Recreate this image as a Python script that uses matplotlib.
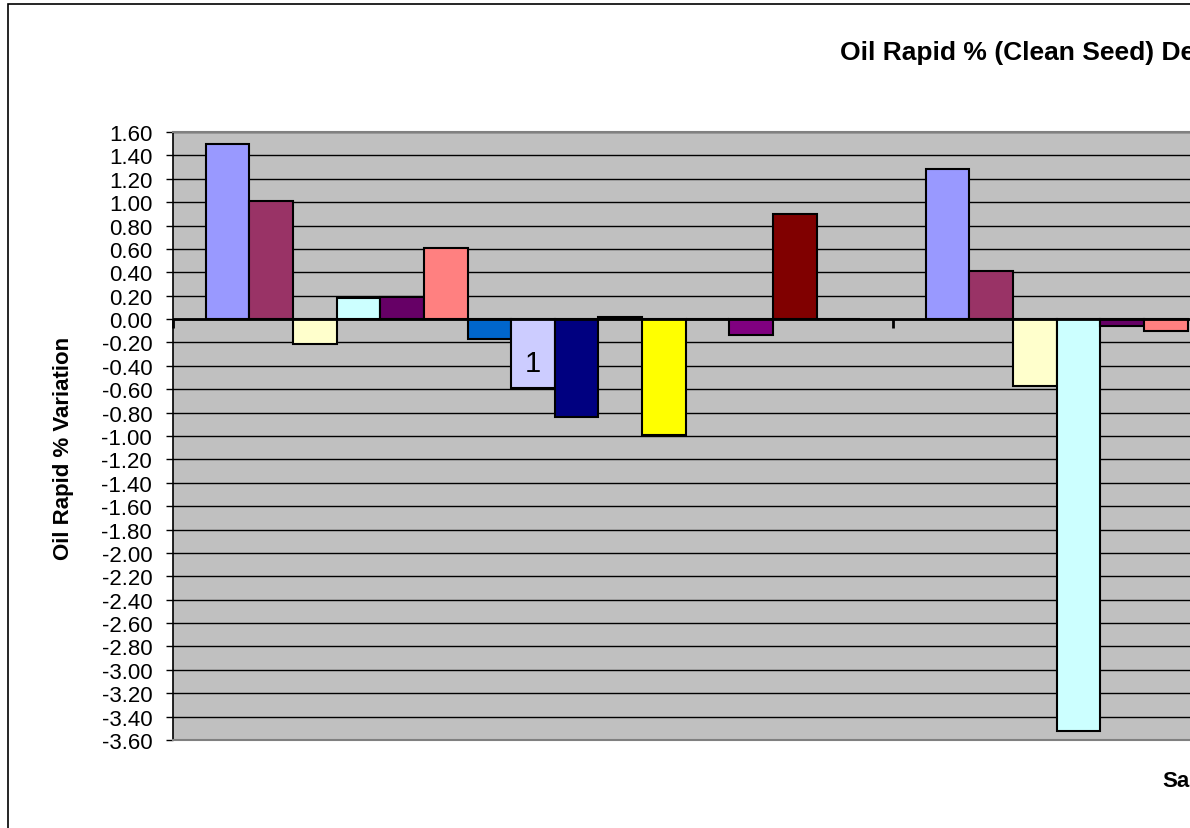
import numpy as np
import matplotlib
matplotlib.use("Agg")
import matplotlib.pyplot as plt
from matplotlib.patches import Rectangle

# ---- data ----
categories = ["1", "2"]
series_colors = ["#9999FF", "#993366", "#FFFFCC", "#CCFFFF", "#660066", "#FF8080",
                 "#0066CC", "#CCCCFF", "#000080", "#FF00FF", "#FFFF00", "#00FFFF",
                 "#800080", "#800000", "#008080"]
cat1_values = [1.50, 1.01, -0.21, 0.18, 0.19, 0.61, -0.17, -0.59, -0.84, 0.02,
               -0.99, 0.00, -0.14, 0.90, 0.00]
cat2_values = [1.28, 0.41, -0.57, -3.52, -0.06, -0.10, np.nan, np.nan, np.nan, np.nan,
               np.nan, np.nan, np.nan, np.nan, np.nan]
ytick_values = np.round(np.arange(-3.6, 1.6001, 0.2), 2)
title_text = "Oil Rapid % (Clean Seed) Deviation"
ylabel_text = "Oil Rapid % Variation"
xlabel_text = "Sample"
data_label_text = "1"

FONT = "Liberation Sans"
W, H = 1190, 829
fig = plt.figure(figsize=(W / 100, H / 100), dpi=100)
fig.patch.set_facecolor("white")

# chart-area border (cropped on right/bottom)
fig.add_artist(Rectangle((8 / W, -0.5), 2.0, 1 - 5 / H + 0.5, transform=fig.transFigure,
                         fill=False, edgecolor="black", linewidth=1.2))

left_px, top_px, bottom_px = 173, 133, 741
cat_px = 720
ax = fig.add_axes([left_px / W, 1 - bottom_px / H, 2 * cat_px / W, (bottom_px - top_px) / H])
ax.set_facecolor("#C0C0C0")
ax.set_xlim(0, len(categories))
ax.set_ylim(-3.6, 1.6)

nser = len(series_colors)
gap = 1.5
bw = 1.0 / (nser + gap)
all_vals = [cat1_values, cat2_values]
for s in range(nser):
    xs = [c + (gap / 2) * bw + (s + 0.5) * bw for c in range(len(categories))]
    ys = [all_vals[c][s] for c in range(len(categories))]
    ax.bar(xs, ys, width=bw, color=series_colors[s], edgecolor="black",
           linewidth=1.5, zorder=3)

# data label
xl = 0 + (gap / 2) * bw + (7 + 0.5) * bw
ax.text(xl, cat1_values[7] * 0.63, data_label_text, ha="center", va="center",
        fontsize=21, family=FONT, zorder=5)

ax.set_yticks(ytick_values)
ax.set_yticklabels([f"{v:.2f}" for v in ytick_values], family=FONT, fontsize=16)
ax.yaxis.grid(True, color="black", linewidth=1.0, zorder=1)
ax.set_axisbelow(True)
ax.tick_params(axis="y", direction="out", length=5, width=1.0, color="black", pad=10)
ax.set_xticks([])

for sp in ["top", "bottom"]:
    ax.spines[sp].set_color("#808080")
    ax.spines[sp].set_linewidth(1.5)
ax.spines["right"].set_visible(False)
ax.spines["left"].set_color("black")
ax.spines["left"].set_linewidth(1.2)

# zero line (category axis) and category tick marks
ax.axhline(0, color="black", linewidth=2.0, zorder=4)
ax.vlines(np.arange(len(categories) + 1), -0.08, 0, color="black", linewidth=2.0, zorder=4,
          clip_on=False)

fig.text(840 / W, 1 - 60 / H, title_text, ha="left", va="baseline", fontsize=19,
         fontweight="bold", family=FONT)
fig.text(63 / W, 1 - 448 / H, ylabel_text, ha="center", va="center", rotation=90,
         fontsize=16, fontweight="bold", family=FONT)
fig.text(1162 / W, 1 - 787 / H, xlabel_text, ha="left", va="baseline", fontsize=16,
         fontweight="bold", family=FONT)

fig.savefig("out.png", dpi=100)
